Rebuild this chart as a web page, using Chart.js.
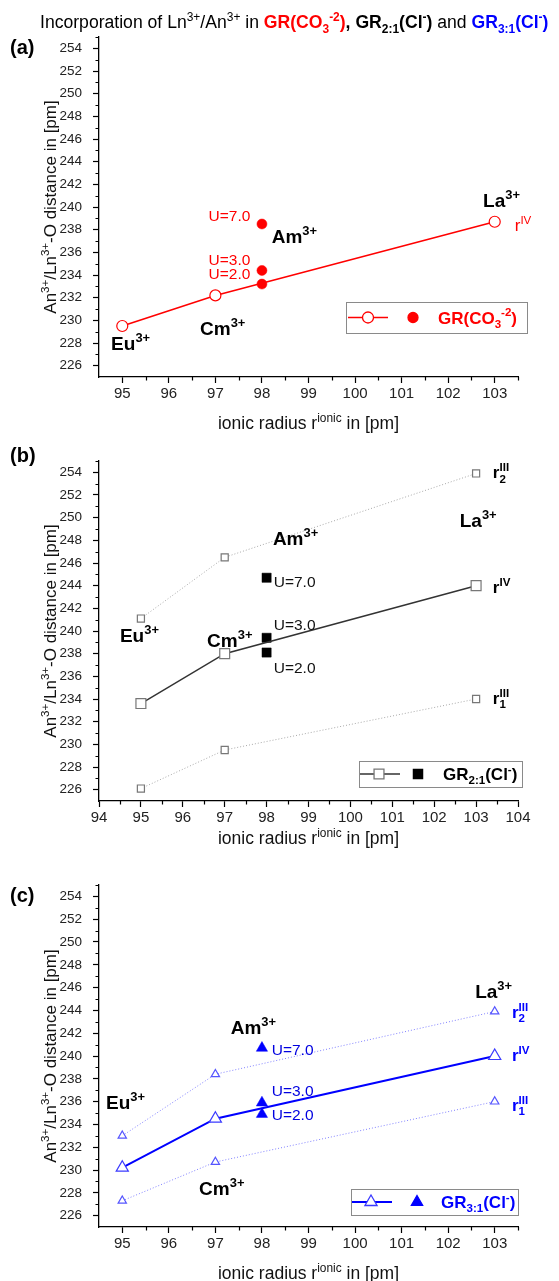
<!DOCTYPE html>
<html>
<head>
<meta charset="utf-8">
<script src="https://cdn.jsdelivr.net/npm/chart.js@4.4.0/dist/chart.umd.min.js"></script>
<style>
  body { margin: 0; background: #fff; }
  #page { position: relative; width: 559px; height: 1281px; }
  .panel { position: absolute; left: 0; width: 559px; }
</style>
</head>
<body>
<div id="page">
  <div class="panel" style="top:0;height:436px"><canvas id="chartA"></canvas></div>
  <div class="panel" style="top:436px;height:426px"><canvas id="chartB"></canvas></div>
  <div class="panel" style="top:862px;height:419px"><canvas id="chartC"></canvas></div>
</div>
<script>
// ionic radius (pm) of Eu3+, Cm3+, La3+ and of Am3+
const radiiEuCmLa = [95, 97, 103];
const radiusAm = [98, 98, 98];
const uLabels = ['U=7.0', 'U=3.0', 'U=2.0'];

// (a) GR(CO3^-2)
const grCO3_rIV = [229.5, 232.2, 238.7];
const grCO3_Am = [238.5, 234.4, 233.2];

// (b) GR2:1(Cl-)
const gr21_rIV = [233.6, 238.0, 244.0];
const gr21_r2III = [241.1, 246.5, 253.9];
const gr21_r1III = [226.1, 229.5, 234.0];
const gr21_Am = [244.7, 239.4, 238.1];

// (c) GR3:1(Cl-)
const gr31_rIV = [230.2, 234.5, 240.0];
const gr31_r2III = [233.0, 238.4, 243.9];
const gr31_r1III = [227.3, 230.7, 236.0];
const gr31_Am = [240.7, 235.9, 234.9];

// tick labels
const yTicks = [226, 228, 230, 232, 234, 236, 238, 240, 242, 244, 246, 248, 250, 252, 254];
const xTicksAC = [95, 96, 97, 98, 99, 100, 101, 102, 103];
const xTicksB = [94, 95, 96, 97, 98, 99, 100, 101, 102, 103, 104];

const FONT = '"Liberation Sans", Arial, sans-serif';
const RED = '#ff0000';
const BLUE = '#0000ff';

function pts(xs, ys) {
  return xs.map((x, i) => ({ x: x, y: ys[i] }));
}

// draws text made of parts: {t, sup, sub, b, c} or {over, under} (stacked sup/sub)
function drawRich(ctx, x, y, parts, size, align, color, bold) {
  const small = size * 0.68;
  const fontOf = (p, s) => ((p.b !== undefined ? p.b : bold) ? 'bold ' : '') + s + 'px ' + FONT;
  const widths = parts.map(p => {
    if (p.over !== undefined) {
      ctx.font = fontOf(p, small);
      return Math.max(ctx.measureText(p.over).width, ctx.measureText(p.under).width);
    }
    ctx.font = fontOf(p, (p.sup || p.sub) ? small : size);
    return ctx.measureText(p.t).width;
  });
  const total = widths.reduce((a, b) => a + b, 0);
  let cx = align === 'right' ? x - total : align === 'center' ? x - total / 2 : x;
  const base = y + size * 0.36;
  ctx.textAlign = 'left';
  ctx.textBaseline = 'alphabetic';
  parts.forEach((p, i) => {
    ctx.fillStyle = p.c || color;
    if (p.over !== undefined) {
      ctx.font = fontOf(p, small);
      ctx.fillText(p.over, cx, base - size * 0.42);
      ctx.fillText(p.under, cx, base + size * 0.25);
    } else if (p.sup) {
      ctx.font = fontOf(p, small);
      ctx.fillText(p.t, cx, base - size * 0.42);
    } else if (p.sub) {
      ctx.font = fontOf(p, small);
      ctx.fillText(p.t, cx, base + size * 0.25);
    } else {
      ctx.font = fontOf(p, size);
      ctx.fillText(p.t, cx, base);
    }
    cx += widths[i];
  });
}

const ion = (name) => [{ t: name }, { t: '3+', sup: true }];
const yTitle = [{ t: 'An' }, { t: '3+', sup: true }, { t: '/Ln' }, { t: '3+', sup: true }, { t: '-O distance in [pm]' }];
const xTitle = [{ t: 'ionic radius r' }, { t: 'ionic', sup: true }, { t: ' in [pm]' }];

function extrasPlugin(spec) {
  return {
    id: 'extras',
    afterDraw(chart) {
      const ctx = chart.ctx;
      const xs = chart.scales.x, ys = chart.scales.y, area = chart.chartArea;
      ctx.save();
      // minor ticks
      ctx.strokeStyle = '#000';
      ctx.lineWidth = 1.2;
      ctx.beginPath();
      for (let v = spec.xMin; v <= spec.xMax + 1e-6; v += 0.5) {
        if (Math.abs(v - Math.round(v)) < 1e-6 || v === spec.xMin) continue;
        const px = Math.round(xs.getPixelForValue(v)) + 0.5;
        ctx.moveTo(px, area.bottom);
        ctx.lineTo(px, area.bottom + 3.5);
      }
      for (let v = 227; v <= 255; v += 2) {
        const py = Math.round(ys.getPixelForValue(v)) + 0.5;
        ctx.moveTo(area.left, py);
        ctx.lineTo(area.left - 3.5, py);
      }
      ctx.stroke();

      // text labels anchored in data space
      spec.labels.forEach(l => {
        drawRich(ctx, xs.getPixelForValue(l.x), ys.getPixelForValue(l.y), l.parts,
          l.size || 19, l.align || 'left', l.color || '#000', l.bold !== undefined ? l.bold : true);
      });

      // axis titles
      ctx.save();
      ctx.translate(50, (area.top + area.bottom) / 2);
      ctx.rotate(-Math.PI / 2);
      drawRich(ctx, 0, 0, yTitle, 17, 'center', '#111', false);
      ctx.restore();
      drawRich(ctx, (area.left + area.right) / 2, area.bottom + spec.xTitleOff, xTitle, 17.5, 'center', '#111', false);

      // panel letter
      drawRich(ctx, 10, spec.letterY, [{ t: spec.letter }], 20, 'left', '#000', true);
      if (spec.title) drawRich(ctx, 40, 22, spec.title, 17.6, 'left', '#000', false);

      // legend box
      const lg = spec.legend;
      ctx.strokeStyle = '#8a8a8a';
      ctx.lineWidth = 1;
      ctx.strokeRect(lg.x0 + 0.5, lg.y0 + 0.5, lg.x1 - lg.x0, lg.y1 - lg.y0);
      const ly = (lg.y0 + lg.y1) / 2;
      ctx.strokeStyle = lg.lineColor;
      ctx.lineWidth = lg.lineWidth;
      ctx.beginPath();
      ctx.moveTo(lg.lx0, ly);
      ctx.lineTo(lg.lx1, ly);
      ctx.stroke();
      ctx.fillStyle = '#fff';
      ctx.strokeStyle = lg.openBorder;
      ctx.lineWidth = 1.3;
      Chart.helpers.drawPoint(ctx, { pointStyle: lg.style, radius: lg.openR, borderWidth: 1.3, rotation: 0 }, lg.m1, ly);
      ctx.fillStyle = lg.fill;
      ctx.strokeStyle = lg.fill;
      Chart.helpers.drawPoint(ctx, { pointStyle: lg.style, radius: lg.fillR, borderWidth: 0.5, rotation: 0 }, lg.m2, ly);
      drawRich(ctx, lg.tx, ly, lg.text, 17, 'left', lg.textColor, true);
      ctx.restore();
    }
  };
}

function makeChart(id, spec) {
  const axisCommon = {
    type: 'linear',
    grid: { drawOnChartArea: false, drawTicks: true, tickLength: 6, tickColor: '#000', tickWidth: 1.2 },
    border: { display: true, color: '#000', width: 1.3 }
  };
  return new Chart(document.getElementById(id), {
    type: 'scatter',
    data: { datasets: spec.datasets },
    options: {
      responsive: true,
      maintainAspectRatio: false,
      animation: false,
      layout: { padding: { left: 0, right: 41, top: spec.top, bottom: 0 } },
      plugins: { legend: { display: false }, tooltip: { enabled: false } },
      scales: {
        x: Object.assign({}, axisCommon, {
          min: spec.xMin, max: spec.xMax,
          afterBuildTicks: s => { s.ticks = spec.xTicks.map(v => ({ value: v })); },
          afterFit: s => { s.height = spec.bottom; },
          ticks: { font: { family: FONT, size: 15 }, color: '#222', padding: 2, maxRotation: 0, autoSkip: false }
        }),
        y: Object.assign({}, axisCommon, {
          min: 225, max: 255,
          afterBuildTicks: s => { s.ticks = yTicks.map(v => ({ value: v })); },
          afterFit: s => { s.width = 99; },
          ticks: { font: { family: FONT, size: 13.5 }, color: '#222', padding: 11, autoSkip: false }
        })
      }
    },
    plugins: [extrasPlugin(spec)]
  });
}

function lineSet(ys, color, width, dash, style, r, ptBorder) {
  return {
    data: pts(radiiEuCmLa, ys), showLine: true, borderColor: color, borderWidth: width, borderDash: dash,
    pointStyle: style, pointRadius: r, pointBorderWidth: 1.2, pointBackgroundColor: '#fff', pointBorderColor: ptBorder
  };
}
function filledSet(ys, color, style, r) {
  return {
    data: pts(radiusAm, ys), showLine: false, pointStyle: style, pointRadius: r,
    pointBackgroundColor: color, pointBorderColor: color, pointBorderWidth: 0.5
  };
}

// (a)
makeChart('chartA', {
  top: 37, bottom: 59, xMin: 94.5, xMax: 103.5, xTicks: xTicksAC, xTitleOff: 46,
  letter: '(a)', letterY: 47,
  title: [
    { t: 'Incorporation of Ln' }, { t: '3+', sup: true }, { t: '/An' }, { t: '3+', sup: true }, { t: ' in ' },
    { t: 'GR(CO', b: true, c: RED }, { t: '3', sub: true, b: true, c: RED }, { t: '-2', sup: true, b: true, c: RED },
    { t: ')', b: true, c: RED }, { t: ', ', b: true },
    { t: 'GR', b: true }, { t: '2:1', sub: true, b: true }, { t: '(Cl', b: true }, { t: '-', sup: true, b: true }, { t: ')', b: true },
    { t: ' and ' },
    { t: 'GR', b: true, c: BLUE }, { t: '3:1', sub: true, b: true, c: BLUE }, { t: '(Cl', b: true, c: BLUE },
    { t: '-', sup: true, b: true, c: BLUE }, { t: ')', b: true, c: BLUE }
  ],
  datasets: [
    lineSet(grCO3_rIV, RED, 1.6, [], 'circle', 5.5, RED),
    filledSet(grCO3_Am, RED, 'circle', 5)
  ],
  labels: [
    { x: 97.75, y: 239.3, parts: [{ t: uLabels[0] }], size: 15.5, bold: false, color: RED, align: 'right' },
    { x: 97.75, y: 235.4, parts: [{ t: uLabels[1] }], size: 15.5, bold: false, color: RED, align: 'right' },
    { x: 97.75, y: 234.15, parts: [{ t: uLabels[2] }], size: 15.5, bold: false, color: RED, align: 'right' },
    { x: 98.21, y: 237.4, parts: ion('Am') },
    { x: 96.67, y: 229.3, parts: ion('Cm') },
    { x: 94.76, y: 228.0, parts: ion('Eu') },
    { x: 102.75, y: 240.6, parts: ion('La') },
    { x: 103.43, y: 238.4, parts: [{ t: 'r' }, { t: 'IV', sup: true }], size: 17, bold: false, color: RED }
  ],
  legend: {
    x0: 346, y0: 302, x1: 527, y1: 333, lx0: 348, lx1: 388, lineColor: RED, lineWidth: 1.6,
    style: 'circle', openR: 5.5, fillR: 5, m1: 368, m2: 413, openBorder: RED, fill: RED,
    tx: 438, textColor: RED,
    text: [{ t: 'GR(CO' }, { t: '3', sub: true }, { t: '-2', sup: true }, { t: ')' }]
  }
});

// (b)
makeChart('chartB', {
  top: 25, bottom: 61, xMin: 94, xMax: 104, xTicks: xTicksB, xTitleOff: 37,
  letter: '(b)', letterY: 19,
  datasets: [
    lineSet(gr21_r2III, '#a8a8a8', 1, [1, 2], 'rect', 5, '#777'),
    lineSet(gr21_r1III, '#a8a8a8', 1, [1, 2], 'rect', 5, '#777'),
    lineSet(gr21_rIV, '#333', 1.5, [], 'rect', 7, '#777'),
    filledSet(gr21_Am, '#000', 'rect', 6.5)
  ],
  labels: [
    { x: 98.17, y: 244.4, parts: [{ t: uLabels[0] }], size: 15.5, bold: false, color: '#111' },
    { x: 98.17, y: 240.6, parts: [{ t: uLabels[1] }], size: 15.5, bold: false, color: '#111' },
    { x: 98.17, y: 236.8, parts: [{ t: uLabels[2] }], size: 15.5, bold: false, color: '#111' },
    { x: 94.5, y: 239.6, parts: ion('Eu') },
    { x: 96.58, y: 239.2, parts: ion('Cm') },
    { x: 98.15, y: 248.2, parts: ion('Am') },
    { x: 102.61, y: 249.8, parts: ion('La') },
    { x: 103.4, y: 254.0, parts: [{ t: 'r' }, { over: 'III', under: '2' }], size: 17 },
    { x: 103.4, y: 243.85, parts: [{ t: 'r' }, { t: 'IV', sup: true }], size: 17 },
    { x: 103.4, y: 234.1, parts: [{ t: 'r' }, { over: 'III', under: '1' }], size: 17 }
  ],
  legend: {
    x0: 359, y0: 325, x1: 522, y1: 351, lx0: 360, lx1: 400, lineColor: '#333', lineWidth: 1.5,
    style: 'rect', openR: 7, fillR: 6.5, m1: 379, m2: 418, openBorder: '#777', fill: '#000',
    tx: 443, textColor: '#000',
    text: [{ t: 'GR' }, { t: '2:1', sub: true }, { t: '(Cl' }, { t: '-', sup: true }, { t: ')' }]
  }
});

// (c)
makeChart('chartC', {
  top: 23, bottom: 54, xMin: 94.5, xMax: 103.5, xTicks: xTicksAC, xTitleOff: 46,
  letter: '(c)', letterY: 33,
  datasets: [
    lineSet(gr31_r2III, '#8080ff', 1, [1, 2], 'triangle', 4.8, '#5555ff'),
    lineSet(gr31_r1III, '#8080ff', 1, [1, 2], 'triangle', 4.8, '#5555ff'),
    lineSet(gr31_rIV, BLUE, 2, [], 'triangle', 7, '#3b3bff'),
    filledSet(gr31_Am, BLUE, 'triangle', 6.5)
  ],
  labels: [
    { x: 98.21, y: 240.6, parts: [{ t: uLabels[0] }], size: 15.5, bold: false, color: '#0000e0' },
    { x: 98.21, y: 236.96, parts: [{ t: uLabels[1] }], size: 15.5, bold: false, color: '#0000e0' },
    { x: 98.21, y: 234.9, parts: [{ t: uLabels[2] }], size: 15.5, bold: false, color: '#0000e0' },
    { x: 94.65, y: 235.96, parts: ion('Eu') },
    { x: 96.65, y: 228.4, parts: ion('Cm') },
    { x: 97.33, y: 242.5, parts: ion('Am') },
    { x: 102.58, y: 245.7, parts: ion('La') },
    { x: 103.37, y: 243.86, parts: [{ t: 'r' }, { over: 'III', under: '2' }], size: 17, color: BLUE },
    { x: 103.37, y: 240.1, parts: [{ t: 'r' }, { t: 'IV', sup: true }], size: 17, color: BLUE },
    { x: 103.37, y: 235.7, parts: [{ t: 'r' }, { over: 'III', under: '1' }], size: 17, color: BLUE }
  ],
  legend: {
    x0: 351, y0: 327, x1: 518, y1: 353, lx0: 352, lx1: 392, lineColor: BLUE, lineWidth: 2,
    style: 'triangle', openR: 7, fillR: 6.5, m1: 371, m2: 417, openBorder: '#3b3bff', fill: BLUE,
    tx: 441, textColor: BLUE,
    text: [{ t: 'GR' }, { t: '3:1', sub: true }, { t: '(Cl' }, { t: '-', sup: true }, { t: ')' }]
  }
});
</script>
</body>
</html>
